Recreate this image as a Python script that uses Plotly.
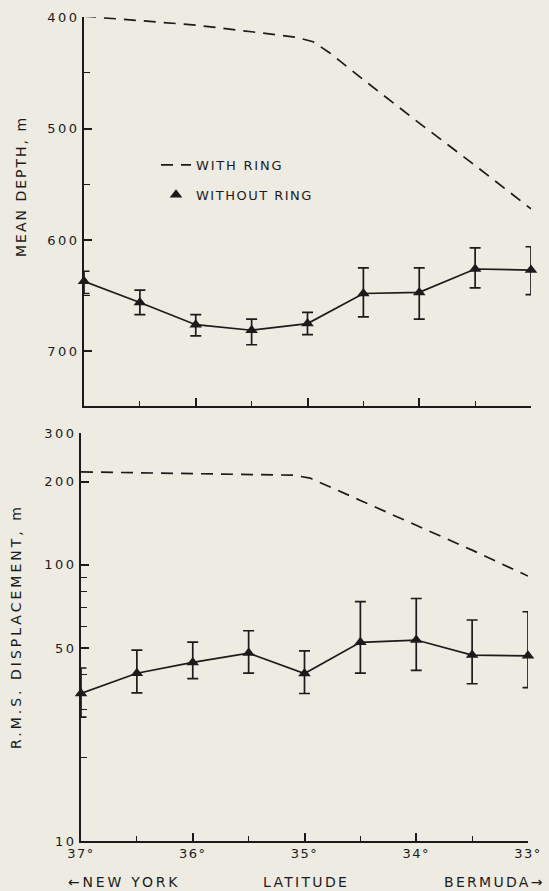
import math
import plotly.graph_objects as go

W, H = 549, 891
BG = "#eeebe3"
INK = "#1b1b1b"
FONT = "DejaVu Sans"

# ---------------- data ----------------
lat = [37, 36.5, 36, 35.5, 35, 34.5, 34, 33.5, 33]

# mean depth (m) without ring, with error bar ends
depth = [637, 656, 676, 681, 675, 648, 647, 626, 627]
depth_shallow = [628, 645, 667, 671, 665, 625, 625, 607, 606]
depth_deep = [648, 667, 686, 694, 685, 669, 671, 643, 649]

# mean depth (m) with ring (dashed)
ring_lat_depth = [37, 36, 35.5, 35.1, 34.95, 34.8, 34.5, 34, 33.5, 33]
ring_depth = [399, 407, 413, 418, 422, 432, 456, 495, 533, 572]

# r.m.s. displacement (m) without ring, with error bar ends
rms = [34.2, 40.5, 44.3, 47.9, 40.4, 52.4, 53.4, 47.1, 46.8]
rms_hi = [42.3, 49.1, 52.5, 57.7, 48.8, 73.5, 75.5, 63.1, 67.6]
rms_lo = [28.1, 34.4, 38.7, 40.5, 34.2, 40.5, 41.5, 37.1, 35.9]

# r.m.s. displacement (m) with ring (dashed)
ring_lat_rms = [37, 36, 35.1, 34.95, 34.8, 34.5, 34, 33.5, 33]
ring_rms = [217, 214, 211, 206, 194, 171, 139, 113, 91]

# ticks
x_major = [37, 36, 35, 34, 33]
x_minor = [36.5, 35.5, 34.5, 33.5]
x_labels = ["37°", "36°", "35°", "34°", "33°"]
depth_ticks = [400, 500, 600, 700]
depth_minor = [450, 550, 650]
rms_ticks = [10, 50, 100, 200, 300]
rms_minor = [20, 30, 40, 60, 70, 80, 90]


def sp(t, ls):
    return f"<span style='letter-spacing:{ls}px'>{t}</span>"


def fx(px):
    return px / W


def fy(px):
    return 1 - px / H


fig = go.Figure()

# top panel
fig.add_trace(go.Scatter(
    x=ring_lat_depth, y=ring_depth, mode="lines", name=sp("WITH RING", 1.8),
    line=dict(color=INK, width=1.7, dash="12px,8px"),
    xaxis="x", yaxis="y", cliponaxis=False, showlegend=True, legendgroup="a"))
fig.add_trace(go.Scatter(
    x=lat, y=depth, mode="lines+markers",
    line=dict(color=INK, width=1.7),
    marker=dict(symbol="triangle-up", size=11, color=INK),
    error_y=dict(type="data", symmetric=False,
                 array=[d - v for d, v in zip(depth_deep, depth)],
                 arrayminus=[v - s for s, v in zip(depth_shallow, depth)],
                 color=INK, thickness=1.7, width=5.5),
    xaxis="x", yaxis="y", cliponaxis=False, showlegend=False))

# bottom panel
fig.add_trace(go.Scatter(
    x=ring_lat_rms, y=ring_rms, mode="lines",
    line=dict(color=INK, width=1.7, dash="12px,8px"),
    xaxis="x2", yaxis="y2", cliponaxis=False, showlegend=False))
fig.add_trace(go.Scatter(
    x=lat, y=rms, mode="lines+markers",
    line=dict(color=INK, width=1.7),
    marker=dict(symbol="triangle-up", size=11, color=INK),
    error_y=dict(type="data", symmetric=False,
                 array=[h - v for h, v in zip(rms_hi, rms)],
                 arrayminus=[v - l for l, v in zip(rms_lo, rms)],
                 color=INK, thickness=1.7, width=5.5),
    xaxis="x2", yaxis="y2", cliponaxis=False, showlegend=False))

# legend-only entry for triangles
fig.add_trace(go.Scatter(
    x=[None], y=[None], mode="markers", name=sp("WITHOUT RING", 1.5),
    marker=dict(symbol="triangle-up", size=11, color=INK),
    xaxis="x", yaxis="y", showlegend=True, legendgroup="b"))

tickfont = dict(family=FONT, size=13, color=INK)
common_x = dict(
    range=[37, 33], showline=True, linecolor=INK, linewidth=1.6,
    ticks="inside", tickvals=x_major, ticklen=8, tickwidth=1.6, tickcolor=INK,
    minor=dict(tickvals=x_minor, ticks="inside", ticklen=5, tickwidth=1.4, tickcolor=INK),
    showgrid=False, zeroline=False, mirror=False, automargin=False,
)

fig.update_layout(
    width=W, height=H,
    margin=dict(l=0, r=0, t=0, b=0, autoexpand=False),
    paper_bgcolor=BG, plot_bgcolor=BG,
    font=dict(family=FONT, color=INK, size=12),
    xaxis=dict(common_x, domain=[fx(84), fx(531)], anchor="y",
               showticklabels=False),
    yaxis=dict(domain=[fy(406), fy(17.3)], range=[749, 400], anchor="x",
               showline=True, linecolor=INK, linewidth=1.6,
               ticks="inside", tickvals=depth_ticks,
               ticktext=[sp(str(v), 2.5) for v in depth_ticks],
               ticklen=8, tickwidth=1.6, tickcolor=INK, tickfont=tickfont,
               minor=dict(tickvals=depth_minor, ticks="inside", ticklen=6,
                          tickwidth=1.4, tickcolor=INK),
               showgrid=False, zeroline=False, automargin=False),
    xaxis2=dict(common_x, domain=[fx(81), fx(528)], anchor="y2",
                showticklabels=True, ticktext=[sp(t, 1.5) for t in x_labels],
                tickfont=tickfont),
    yaxis2=dict(type="log", domain=[fy(841), fy(433)],
                range=[1, math.log10(300)], anchor="x2",
                showline=True, linecolor=INK, linewidth=1.6,
                ticks="inside", tickvals=rms_ticks,
                ticktext=[sp(str(v), 2.5) for v in rms_ticks],
                ticklen=8, tickwidth=1.6, tickcolor=INK, tickfont=tickfont,
                minor=dict(tickvals=rms_minor, ticks="inside", ticklen=6,
                           tickwidth=1.4, tickcolor=INK),
                showgrid=False, zeroline=False, automargin=False),
    legend=dict(x=fx(156), y=fy(150), xanchor="left", yanchor="top",
                bgcolor="rgba(0,0,0,0)", font=dict(family=FONT, size=13, color=INK),
                traceorder="grouped", tracegroupgap=10, itemwidth=30),
)

ann_font = dict(family=FONT, size=14, color=INK)
fig.add_annotation(text=sp("MEAN DEPTH, m", 2), x=fx(21), y=fy(187),
                   xref="paper", yref="paper", textangle=-90, showarrow=False,
                   xanchor="center", yanchor="middle", font=ann_font)
fig.add_annotation(text=sp("R.M.S. DISPLACEMENT, m", 3), x=fx(16), y=fy(627),
                   xref="paper", yref="paper", textangle=-90, showarrow=False,
                   xanchor="center", yanchor="middle", font=ann_font)
fig.add_annotation(text=sp("←NEW YORK", 2.8), x=fx(66), y=fy(882),
                   xref="paper", yref="paper", xanchor="left", yanchor="middle",
                   showarrow=False, font=ann_font)
fig.add_annotation(text=sp("LATITUDE", 2.3), x=fx(306), y=fy(882),
                   xref="paper", yref="paper", xanchor="center", yanchor="middle",
                   showarrow=False, font=ann_font)
fig.add_annotation(text=sp("BERMUDA→", 2.3), x=fx(547), y=fy(882),
                   xref="paper", yref="paper", xanchor="right", yanchor="middle",
                   showarrow=False, font=ann_font)

fig.write_html(
    "out.html",
    config={"displayModeBar": False},
    post_script="document.body.style.margin='0';document.body.style.overflow='hidden';",
)
